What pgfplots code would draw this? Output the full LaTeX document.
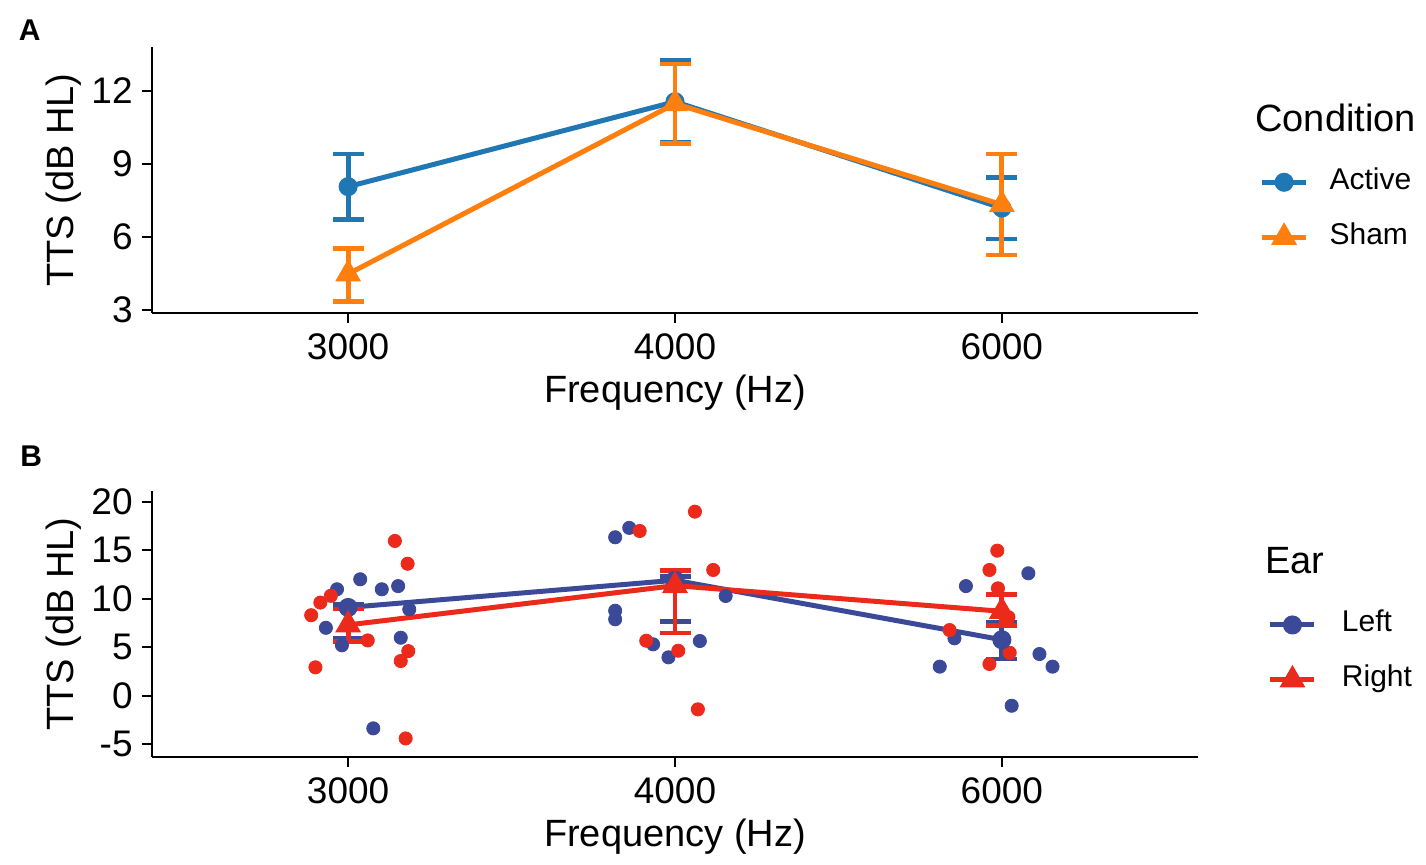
\documentclass[border=0pt]{standalone}
\usepackage{fontspec}
\setmainfont{Liberation Sans}
\usepackage{pgfplots}
\pgfplotsset{compat=1.18}
\definecolor{cActive}{HTML}{1F77B4}
\definecolor{cSham}{HTML}{FF7F0E}
\definecolor{cLeft}{HTML}{3B4A98}
\definecolor{cRight}{HTML}{EC2A1C}
\pgfplotsset{
  mystyle/.style={
    scale only axis, width=523pt, height=133pt,
    axis lines=left, axis line style={-, line width=1.1pt, black},
    xmin=-0.6, xmax=2.6,
    xtick={0,1,2}, xticklabels={3000,4000,6000},
    tick align=outside, major tick length=5pt,
    every tick/.style={line width=1.1pt, black},
    /pgf/number format/assume math mode=true,
    tick label style={font=\fontsize{18.5}{21}\selectfont, inner sep=0pt},
    xticklabel style={yshift=-5pt},
    yticklabel style={xshift=-4.5pt},
    xlabel={Frequency (Hz)}, ylabel={TTS (dB HL)},
    every axis x label/.style={at={(axis description cs:0.5,-0.30)}, anchor=center, font=\fontsize{19}{22}\selectfont},
    every axis y label/.style={at={(axis description cs:-0.084,0.5)}, anchor=center, rotate=90, font=\fontsize{19}{22}\selectfont},
    clip=false,
    legend image code/.code={\draw[##1, mark repeat=2, mark phase=2] plot coordinates {(0pt,0pt) (11pt,0pt) (22pt,0pt)};},
    legend style={draw=none, fill=none, inner sep=0pt, font=\fontsize{15}{17}\selectfont, row sep=14.5pt, column sep=10.5pt, nodes={inner sep=0pt, text height=10pt, text depth=3pt}},
    legend cell align=left,
  },
  ebar/.style={error bars/.cd, y dir=both, y explicit,
    error bar style={line width=2.4pt, #1},
    error mark options={rotate=90, mark size=7.75pt, line width=2.4pt, #1}},
}
\begin{document}
\begin{tikzpicture}
\useasboundingbox (0,0) rectangle (713pt,432.5pt);
\node[anchor=base west, inner sep=0pt, font=\bfseries\fontsize{15}{17}\selectfont] at (9.2pt,412.2pt) {A};
\node[anchor=base west, inner sep=0pt, font=\bfseries\fontsize{15}{17}\selectfont] at (10pt,199pt) {B};
\node[anchor=base west, inner sep=0pt, font=\fontsize{19}{22}\selectfont] at (627.5pt,366.6pt) {Condition};
\node[anchor=base west, inner sep=0pt, font=\fontsize{19}{22}\selectfont] at (632.5pt,145.8pt) {Ear};
% Panel A
\begin{axis}[mystyle, at={(76pt,276pt)}, anchor=south west,
  ymin=2.877, ymax=13.81, ytick={3,6,9,12},
  legend style={at={(axis description cs:1.0585,0.388)}, anchor=west}]
\addplot[color=cActive, line width=2.5pt, mark=*, mark size=3.5pt, mark options={solid}, ebar=cActive]
  coordinates {(0,8.07) += (0,1.34) -= (0,1.34)
               (1,11.56) += (0,1.69) -= (0,1.69)
               (2,7.19) += (0,1.26) -= (0,1.27)};
\addlegendentry{Active}
\addplot[color=cSham, line width=2.5pt, mark=triangle*, mark size=5pt, mark options={solid}, ebar=cSham]
  coordinates {(0,4.48) += (0,1.05) -= (0,1.14)
               (1,11.48) += (0,1.63) -= (0,1.65)
               (2,7.33) += (0,2.08) -= (0,2.07)};
\addlegendentry{Sham}
\end{axis}
% Panel B
\begin{axis}[mystyle, at={(76pt,54pt)}, anchor=south west,
  ymin=-6.31, ymax=21.1, ytick={-5,0,5,10,15,20},
  legend style={at={(axis description cs:1.0665,0.393)}, anchor=west, column sep=12.5pt}]
\addplot[only marks, mark=*, mark size=3.3pt, color=cLeft, forget plot] coordinates {
 (0.037,12.0) (-0.034,10.97) (0.103,10.97) (0.153,11.3) (0.187,8.9) (-0.068,7.0) (-0.019,5.2) (0.161,5.98) (0.077,-3.36)
 (0.86,17.3) (0.817,16.33) (1.155,10.28) (0.817,8.76) (0.817,7.88) (0.933,5.3) (1.076,5.64) (0.98,3.96)
 (2.081,12.62) (1.89,11.3) (1.855,5.92) (2.115,4.3) (2.155,3.0) (1.81,3.0) (2.03,-1.03)};
\addplot[only marks, mark=*, mark size=3.3pt, color=cRight, forget plot] coordinates {
 (0.143,15.95) (0.182,13.6) (-0.053,10.3) (-0.085,9.6) (-0.113,8.3) (0.06,5.7) (0.184,4.6) (0.161,3.58) (-0.1,2.93) (0.176,-4.4)
 (1.061,18.97) (0.892,16.98) (1.117,12.96) (0.912,5.67) (1.01,4.64) (1.07,-1.4)
 (1.986,14.95) (1.962,12.96) (1.988,11.07) (1.84,6.77) (2.024,4.43) (1.962,3.27) (2.02,8.1)};
\addplot[color=cLeft, line width=2.5pt, mark=*, mark size=3.5pt, mark options={solid}, ebar=cLeft]
  coordinates {(0,9.1) += (0,0.3) -= (0,3.15)
               (1,11.9) += (0,0.35) -= (0,4.24)
               (2,5.77) += (0,1.79) -= (0,1.99)};
\addlegendentry{Left}
\addplot[color=cRight, line width=2.5pt, mark=triangle*, mark size=5pt, mark options={solid}, ebar=cRight]
  coordinates {(0,7.3) += (0,1.63) -= (0,1.7)
               (1,11.35) += (0,1.57) -= (0,4.89)
               (2,8.7) += (0,1.71) -= (0,1.48)};
\addlegendentry{Right}
\end{axis}
\end{tikzpicture}
\end{document}
